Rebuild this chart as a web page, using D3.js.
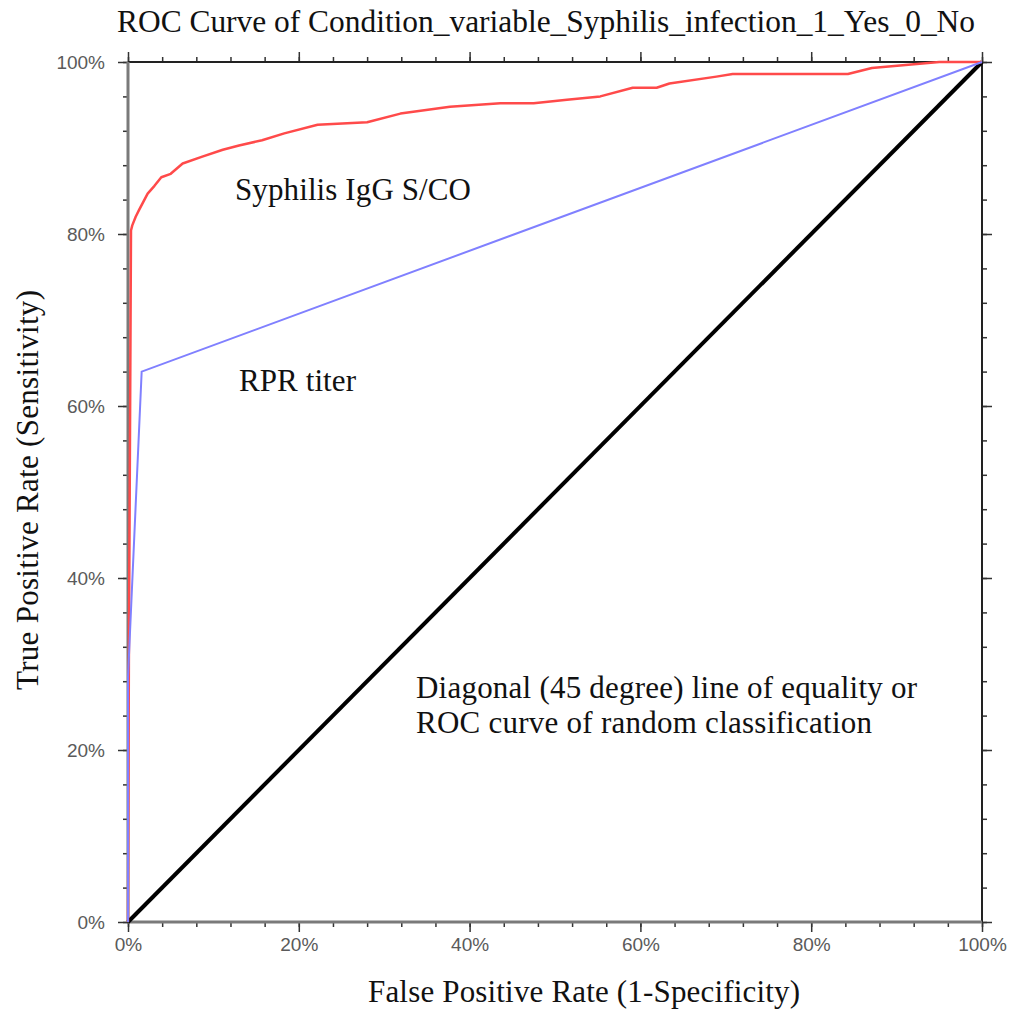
<!DOCTYPE html>
<meta charset="utf-8">
<style>
  body { margin: 0; background: #fff; }
  .serif { font-family: 'Liberation Serif', 'Times New Roman', serif; fill: #111; }
  .tick text { font-family: 'Liberation Sans', Arial, sans-serif; font-size: 19px; fill: #5a5a5a; }
  .tick line { stroke: #333; stroke-width: 1.5; }
</style>
<body>
<script src="https://cdn.jsdelivr.net/npm/d3@7"></script>
<script>
  // ROC data (percent)
  var iggFpr = [0, 0.1, 0.2, 0.3, 0.35, 0.5, 0.9, 1.3, 2.3, 3.1, 3.9, 5.0, 6.4, 8.7, 11.1, 13.0, 15.7, 18.3, 22.2, 28.0, 31.9, 37.7, 43.6, 47.5, 51.4, 55.3, 59.1, 61.9, 63.4, 68.9, 70.8, 72.8, 84.3, 87.1, 95, 100];
  var iggTpr = [0, 30, 50, 70, 80.4, 81.0, 82.0, 82.8, 84.7, 85.6, 86.6, 87.0, 88.2, 89.0, 89.8, 90.3, 90.9, 91.7, 92.7, 93.0, 94.0, 94.8, 95.2, 95.2, 95.6, 96.0, 97.0, 97.0, 97.5, 98.3, 98.6, 98.6, 98.6, 99.3, 100, 100];
  var rprFpr = [0, 0, 1.6, 100];
  var rprTpr = [0, 28.5, 64, 100];
  var diagFpr = [0, 100];
  var diagTpr = [0, 100];
  var majorTicks = [0, 20, 40, 60, 80, 100];
  var minorTicks = d3.range(0, 101, 4);

  var width = 1011,
    height = 1012;
  var margin = { top: 62, right: 29, bottom: 90, left: 128 };
  var w = width - margin.left - margin.right,
    h = height - margin.top - margin.bottom;

  var svg = d3.select("body").append("svg")
    .attr("width", width)
    .attr("height", height)

  var g = svg.append("g")
    .attr("transform", "translate(" + margin.left + "," + margin.top + ")")

  var x = d3.scaleLinear().domain([0, 100]).range([0, w]);
  var y = d3.scaleLinear().domain([0, 100]).range([h, 0]);

  // minor ticks, all four sides
  g.append("g").attr("transform", "translate(0," + h + ")")
    .call(d3.axisBottom(x).tickValues(minorTicks).tickSize(5).tickFormat(""));
  g.append("g")
    .call(d3.axisTop(x).tickValues(minorTicks).tickSize(5).tickFormat(""));
  g.append("g")
    .call(d3.axisLeft(y).tickValues(minorTicks).tickSize(5).tickFormat(""));
  g.append("g").attr("transform", "translate(" + w + ",0)")
    .call(d3.axisRight(y).tickValues(minorTicks).tickSize(5).tickFormat(""));

  // major ticks
  g.append("g").attr("transform", "translate(0," + h + ")")
    .call(d3.axisBottom(x).tickValues(majorTicks).tickSize(10).tickPadding(6)
      .tickFormat(function(d) { return d + "%" }));
  g.append("g")
    .call(d3.axisTop(x).tickValues(majorTicks).tickSize(10).tickFormat(""));
  g.append("g")
    .call(d3.axisLeft(y).tickValues(majorTicks).tickSize(10).tickPadding(13)
      .tickFormat(function(d) { return d + "%" }));
  g.append("g").attr("transform", "translate(" + w + ",0)")
    .call(d3.axisRight(y).tickValues(majorTicks).tickSize(10).tickFormat(""));

  g.selectAll(".domain").remove();

  // frame
  g.append("line").attr("x1", 0).attr("x2", w).attr("y1", 0).attr("y2", 0)
    .attr("stroke", "#222").attr("stroke-width", 2);
  g.append("line").attr("x1", w).attr("x2", w).attr("y1", 0).attr("y2", h)
    .attr("stroke", "#222").attr("stroke-width", 2);
  g.append("line").attr("x1", 0).attr("x2", 0).attr("y1", 0).attr("y2", h)
    .attr("stroke", "#7a7a7a").attr("stroke-width", 3);
  g.append("line").attr("x1", 0).attr("x2", w).attr("y1", h).attr("y2", h)
    .attr("stroke", "#7a7a7a").attr("stroke-width", 3);

  var line = d3.line()
    .x(function(d) { return x(d[0]) })
    .y(function(d) { return y(d[1]) });

  function pts(a, b) {
    return a.map(function(v, i) { return [v, b[i]] });
  }

  g.append("path").datum(pts(diagFpr, diagTpr))
    .attr("d", line).attr("fill", "none")
    .attr("stroke", "#000").attr("stroke-width", 4);

  g.append("path").datum(pts(iggFpr, iggTpr))
    .attr("d", line).attr("fill", "none")
    .attr("stroke", "#ff4a4a").attr("stroke-width", 2.5)
    .attr("stroke-linejoin", "round");

  g.append("path").datum(pts(rprFpr, rprTpr))
    .attr("d", line).attr("fill", "none")
    .attr("stroke", "#8080ff").attr("stroke-width", 2);

  // title and axis titles
  svg.append("text").attr("class", "serif")
    .attr("x", 117).attr("y", 32)
    .attr("font-size", 31)
    .attr("textLength", 858).attr("lengthAdjust", "spacingAndGlyphs")
    .text("ROC Curve of Condition_variable_Syphilis_infection_1_Yes_0_No");

  svg.append("text").attr("class", "serif")
    .attr("x", 368).attr("y", 1002)
    .attr("font-size", 31).attr("textLength", 432)
    .text("False Positive Rate (1-Specificity)");

  svg.append("text").attr("class", "serif")
    .attr("transform", "translate(38,690) rotate(-90)")
    .attr("font-size", 31).attr("textLength", 400)
    .text("True Positive Rate (Sensitivity)");

  // annotations
  svg.append("text").attr("class", "serif")
    .attr("x", 235).attr("y", 200)
    .attr("font-size", 31).attr("textLength", 236)
    .text("Syphilis IgG S/CO");

  svg.append("text").attr("class", "serif")
    .attr("x", 239).attr("y", 391)
    .attr("font-size", 31).attr("textLength", 117)
    .text("RPR titer");

  svg.append("text").attr("class", "serif")
    .attr("x", 416).attr("y", 698)
    .attr("font-size", 31).attr("textLength", 501)
    .text("Diagonal (45 degree) line of equality or");

  svg.append("text").attr("class", "serif")
    .attr("x", 416).attr("y", 733)
    .attr("font-size", 31).attr("textLength", 456)
    .text("ROC curve of random classification");
</script>
</body>
